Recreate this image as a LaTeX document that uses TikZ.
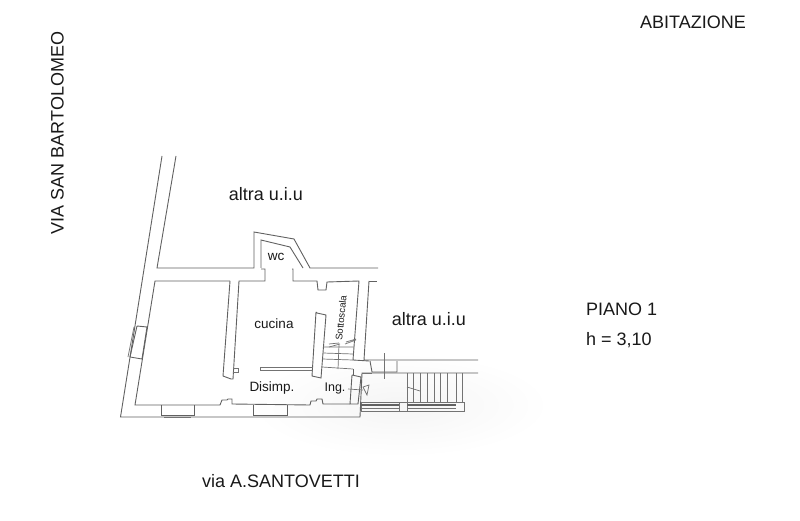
\documentclass[tikz,border=0pt]{standalone}
\usepackage{fontspec}
\setmainfont{Liberation Sans}
\tikzset{
  wall/.style={draw=black!62,line width=0.9pt,line join=miter},
  thin wall/.style={draw=black!55,line width=0.7pt},
  lbl/.style={inner sep=0pt,text=black!90,font=\fontsize{18}{20}\selectfont},
  room/.style={inner sep=0pt,text=black!90,font=\fontsize{13.5}{15}\selectfont}
}
\begin{document}
\begin{tikzpicture}[x=1pt,y=-1pt]
\useasboundingbox (0,0) rectangle (800,521);
\fill[white] (0,0) rectangle (800,521);
% watermark
\shade[inner color=black!4,outer color=white] (400,405) ellipse (150 and 52);
% texts
\node[lbl] (t1) at (693,22) {ABITAZIONE};
\node[lbl,rotate=90] (t2) at (57.5,133) {VIA SAN BARTOLOMEO};
\node[lbl] (t3) at (266,194) {altra u.i.u};
\node[lbl] (t4) at (429,319) {altra u.i.u};
\node[lbl,anchor=west] (t5) at (586,309) {PIANO 1};
\node[lbl,anchor=west] (t6) at (586,340) {h = 3,10};
\node[lbl] (t7) at (281,481) {via A.SANTOVETTI};
\node[room] (r1) at (274,324) {cucina};
\node[room] (r2) at (276,257) {wc};
\node[room] (r3) at (272,388) {Disimp.};
\node[room,font=\fontsize{12.5}{14}\selectfont] (r4) at (335,388) {Ing.};
\node[room,rotate=84,font=\fontsize{9.6}{11}\selectfont] (r5) at (341,318) {Sottoscala};
% outer walls
\draw[wall] (162,156) -- (120.5,417) -- (360,417) -- (362,373) -- (478,373);
\draw[wall] (176,156) -- (157,268) -- (254,268) -- (254,232) -- (294,239) -- (310,268) -- (378,268);
\draw[wall] (303,268) -- (290,247) -- (261,240) -- (261,268);
% wc jambs, rooms
\draw[wall] (261,269) -- (265,269) -- (265,281) -- (239,281) -- (233,379) -- (231,379);
\draw[wall] (292,269) -- (293,269) -- (293,281) -- (317,281) -- (318,290) -- (326,290) -- (327,282) -- (359,281) -- (353,360) -- (369,361);
\draw[wall] (230,281) -- (155,281) -- (135,405) -- (220,405) -- (222,400) -- (227,400) -- (228,399) -- (232,399) -- (232,404) -- (310,405) -- (311,401) -- (316,401) -- (317,399) -- (322,399) -- (323,404) -- (350,404);
\draw[wall] (230,281) -- (223,376) -- (231,379);
\draw[wall] (369,281) -- (364,360) -- (478,360);
\draw[wall] (369,281) -- (377,281);
% cucina partition
\draw[wall] (316,312) -- (317,313) -- (326,315) -- (321,378) -- (312,376) -- (316,312);
\draw[thin wall] (260,367.5) -- (313,367.5) (260,370) -- (313,370) (260,367.5) -- (260,370);
\draw[thin wall] (233,368) -- (238,368) -- (238,372) -- (233,372);
% interior stairs
\draw[thin wall] (323,347) -- (354,347) (323,353) -- (353,354) (322,359) -- (353,360) (322,367) -- (353,369);
\draw[thin wall] (339,345) -- (338,369);
\draw[thin wall] (329,347) -- (340,344) (329,344) -- (339,343) (345,344) -- (356,340) (346,342) -- (356,339);
% entry
\draw[wall] (352,375) -- (350,404) -- (358,404) -- (361,377) -- (352,375);
\draw[wall] (353,369) -- (353,375);
\draw[thin wall] (348,389) -- (363,390);
\draw[thin wall] (363,387) -- (369,385) -- (367,395) -- cycle;
% box with cross
\draw[wall] (370,361) -- (372,372) -- (397,372) -- (397,361);
\draw[thin wall] (384,353) -- (384,379);
\draw[thin wall] (362,373) -- (372,373);
% outer stairs
\draw[thin wall] (407,373) -- (407,402) (413,373) -- (413,402) (420,373) -- (420,402) (427,373) -- (427,402) (434,373) -- (434,402) (440,373) -- (440,402) (447,373) -- (447,402) (456,373) -- (456,402) (462,373) -- (462,402);
\draw[thin wall] (407,387) -- (420,391);
% balcony
\draw[thin wall] (361,402) rectangle (399,411);
\draw[thin wall] (407,402) rectangle (464,411);
\draw[wall,line width=1.3pt] (361,405) -- (399,405) (407,405) -- (456,405);
\draw[thin wall] (361,408.5) -- (399,408.5) (407,408.5) -- (456,408.5);
\draw[thin wall] (399,402) -- (407,402) (399,411) -- (407,411);
% windows left
\draw[wall] (137,326) -- (130,357) (147,327) -- (142,359) (137,326) -- (147,327) (130,357) -- (142,359);
\draw[thin wall] (134,327) -- (128,357);
% windows bottom
\draw[wall] (161,405) -- (161,415) -- (194,415) -- (194,405);
\draw[wall] (253,405) -- (253,415) -- (287,415) -- (287,405);
\draw[thin wall] (164,417) -- (191,417);
\end{tikzpicture}
\end{document}
